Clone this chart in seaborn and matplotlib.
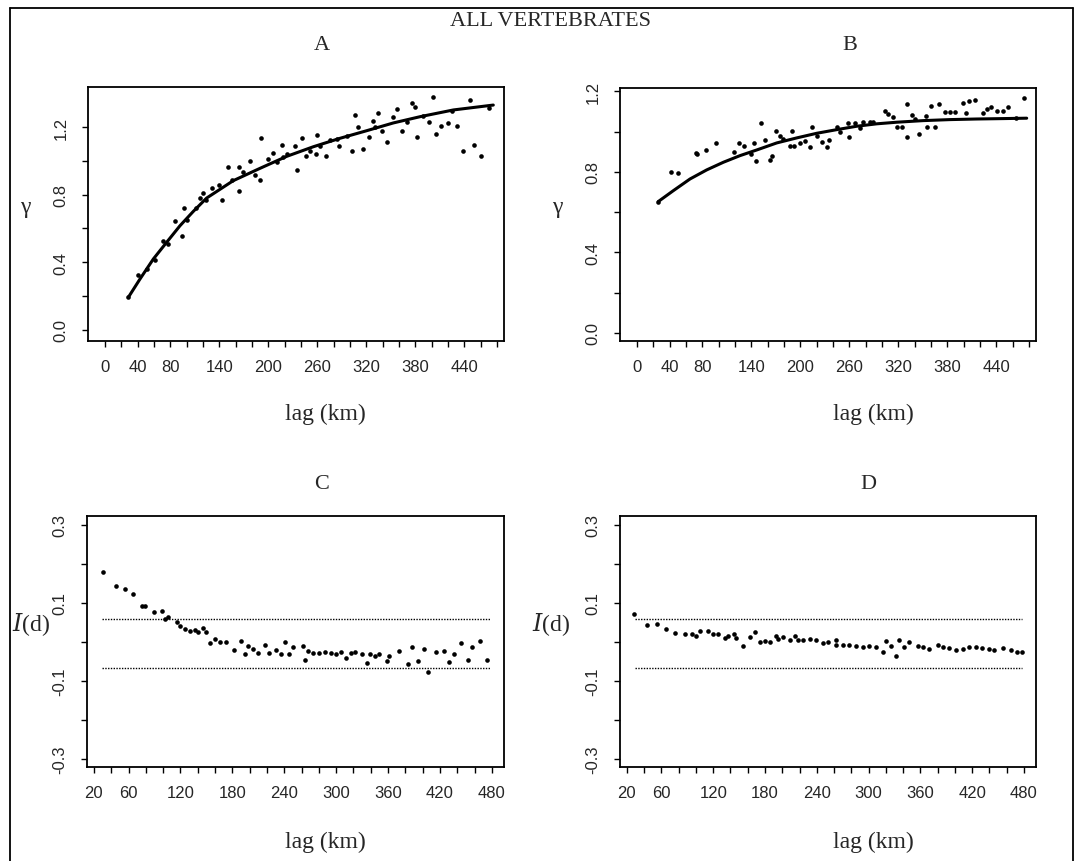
import matplotlib
matplotlib.use("Agg")
import matplotlib.pyplot as plt
from matplotlib.lines import Line2D
import seaborn as sns

# ---- panel A: semivariogram, all vertebrates ----
lag_a = [28.6, 40.8, 51.0, 61.0, 71.4, 77.5, 85.7, 93.8, 97.0, 100.7, 111.4, 116.3,
         120.3, 123.6, 130.6, 139.5, 142.8, 150.2, 155.9, 164.0, 164.4, 169.3, 177.1,
         183.6, 189.7, 190.5, 199.9, 205.2, 210.1, 216.2, 218.0, 223.1, 232.6, 235.4,
         240.7, 245.6, 250.9, 258.2, 259.1, 263.2, 270.5, 275.4, 283.6, 286.4, 295.8,
         302.7, 306.0, 310.1, 316.2, 323.6, 328.5, 330.9, 334.6, 339.5, 344.8, 352.1,
         357.0, 363.1, 369.3, 375.4, 379.4, 382.3, 389.6, 396.6, 401.0, 405.1, 410.8,
         420.2, 425.1, 430.4, 437.8, 446.8, 451.7, 460.2, 470.4]
gamma_a = [0.19, 0.325, 0.358, 0.41, 0.526, 0.507, 0.641, 0.552, 0.722, 0.651, 0.72, 0.779,
           0.809, 0.767, 0.838, 0.856, 0.769, 0.961, 0.886, 0.823, 0.965, 0.931, 1.0,
           0.916, 0.886, 1.135, 1.01, 1.046, 0.991, 1.095, 1.02, 1.04, 1.089, 0.947,
           1.133, 1.03, 1.06, 1.038, 1.154, 1.089, 1.03, 1.123, 1.129, 1.086, 1.145,
           1.06, 1.273, 1.198, 1.07, 1.139, 1.237, 1.198, 1.283, 1.178, 1.113, 1.258,
           1.307, 1.175, 1.228, 1.342, 1.317, 1.139, 1.267, 1.228, 1.376, 1.158, 1.204,
           1.224, 1.297, 1.208, 1.06, 1.36, 1.095, 1.03, 1.311]
fit_lag_a = [28.6, 42.8, 59.2, 75.5, 91.8, 108.1, 124.4, 157.0, 189.7, 222.4, 255.0,
             287.6, 320.3, 352.9, 385.6, 426.4, 475.3]
fit_gamma_a = [0.191, 0.299, 0.418, 0.517, 0.615, 0.70, 0.779, 0.882, 0.955, 1.026, 1.083,
               1.133, 1.178, 1.224, 1.261, 1.301, 1.330]

# ---- panel B: semivariogram of residuals ----
lag_b = [26.1, 41.2, 50.6, 72.2, 73.8, 84.5, 96.7, 118.7, 124.8, 131.4, 139.1, 143.2,
         145.3, 151.4, 156.7, 162.8, 165.6, 169.7, 175.0, 179.1, 187.3, 189.4, 192.2,
         199.5, 205.6, 211.8, 213.8, 219.9, 226.0, 232.2, 235.0, 245.2, 248.5, 258.6,
         259.9, 266.8, 273.0, 277.1, 285.2, 289.3, 303.5, 307.6, 313.7, 317.8, 323.9,
         330.0, 330.8, 336.2, 340.3, 345.6, 353.7, 355.4, 359.5, 364.7, 370.0, 377.0,
         383.1, 389.2, 398.6, 402.7, 406.8, 413.7, 423.1, 428.0, 432.9, 441.0, 448.4,
         454.5, 463.9, 474.1]
gamma_b = [0.653, 0.802, 0.793, 0.894, 0.891, 0.911, 0.944, 0.901, 0.944, 0.931, 0.889,
           0.942, 0.853, 1.042, 0.961, 0.860, 0.878, 1.005, 0.980, 0.964, 0.928, 1.005,
           0.928, 0.943, 0.956, 0.926, 1.022, 0.980, 0.951, 0.923, 0.961, 1.022, 0.997,
           1.042, 0.972, 1.042, 1.017, 1.047, 1.047, 1.047, 1.105, 1.088, 1.075, 1.022,
           1.022, 1.138, 0.972, 1.083, 1.063, 0.989, 1.080, 1.025, 1.126, 1.025, 1.138,
           1.097, 1.097, 1.097, 1.143, 1.093, 1.154, 1.159, 1.093, 1.113, 1.121, 1.105,
           1.105, 1.121, 1.067, 1.166]
fit_lag_b = [26.1, 44.5, 64.9, 85.3, 105.7, 126.1, 146.5, 171.0, 195.5, 220.0, 244.4,
             268.9, 293.4, 317.9, 350.5, 383.1, 415.8, 448.4, 477.0]
fit_gamma_b = [0.653, 0.707, 0.765, 0.810, 0.848, 0.881, 0.909, 0.944, 0.969, 0.992, 1.010,
               1.027, 1.039, 1.047, 1.055, 1.060, 1.063, 1.065, 1.067]

# ---- panel C: Moran's I correlogram ----
lag_c = [30.8, 45.5, 55.9, 65.5, 75.2, 79.1, 89.5, 99.1, 102.2, 106.0, 115.7, 119.5,
         125.3, 131.1, 136.9, 140.7, 146.5, 149.6, 154.3, 160.2, 166.2, 172.2, 182.2,
         190.0, 194.1, 198.0, 204.0, 210.0, 217.2, 222.0, 229.9, 235.8, 241.0, 245.1,
         249.8, 261.7, 263.8, 267.7, 273.7, 279.6, 287.6, 293.6, 299.5, 305.5, 311.5,
         316.7, 321.5, 329.5, 335.4, 339.4, 345.3, 349.3, 359.3, 361.2, 373.2, 383.2,
         387.2, 394.3, 401.1, 405.9, 415.0, 425.0, 431.0, 436.2, 444.0, 452.0, 456.9,
         466.8, 474.8]
moran_c = [0.180, 0.143, 0.136, 0.123, 0.093, 0.093, 0.076, 0.079, 0.059, 0.063, 0.050,
           0.042, 0.033, 0.029, 0.031, 0.026, 0.035, 0.025, -0.003, 0.008, 0.001, 0.001,
           -0.022, 0.003, -0.032, -0.010, -0.019, -0.028, -0.008, -0.028, -0.021, -0.032,
           0.001, -0.032, -0.014, -0.010, -0.047, -0.023, -0.028, -0.028, -0.026, -0.028,
           -0.032, -0.026, -0.041, -0.028, -0.026, -0.032, -0.054, -0.032, -0.035, -0.032,
           -0.050, -0.036, -0.023, -0.058, -0.014, -0.050, -0.019, -0.078, -0.026, -0.023,
           -0.052, -0.032, -0.003, -0.047, -0.014, 0.003, -0.047]

# ---- panel D: Moran's I correlogram of residuals ----
lag_d = [28.6, 43.6, 54.4, 65.2, 75.6, 87.1, 94.9, 99.9, 104.5, 114.1, 119.9, 125.6,
         133.4, 137.2, 144.1, 146.9, 154.6, 162.3, 168.1, 173.8, 179.6, 185.4, 193.1,
         195.0, 200.8, 208.5, 215.1, 218.1, 223.9, 231.6, 239.4, 247.0, 252.8, 261.7,
         262.5, 270.2, 277.9, 285.6, 293.3, 301.0, 308.8, 316.5, 320.4, 326.2, 332.0,
         335.0, 341.5, 347.3, 356.9, 362.7, 370.4, 380.0, 385.8, 393.5, 401.3, 409.0,
         416.6, 424.4, 432.0, 439.8, 445.5, 455.2, 464.8, 472.5, 478.3]
moran_d = [0.072, 0.044, 0.045, 0.033, 0.022, 0.021, 0.021, 0.015, 0.027, 0.027, 0.021,
           0.019, 0.009, 0.014, 0.021, 0.010, -0.011, 0.012, 0.025, -0.001, 0.003, -0.001,
           0.016, 0.008, 0.012, 0.006, 0.015, 0.006, 0.006, 0.008, 0.006, -0.003, 0.001,
           0.006, -0.009, -0.008, -0.009, -0.011, -0.014, -0.011, -0.014, -0.025, 0.003,
           -0.011, -0.035, 0.006, -0.014, 0.001, -0.011, -0.014, -0.018, -0.008, -0.014,
           -0.016, -0.020, -0.018, -0.014, -0.014, -0.016, -0.018, -0.020, -0.016, -0.020,
           -0.025, -0.027]

# significance bands (dotted lines) for the correlograms
band_lag = [29, 478]
band_upper = [0.06, 0.06]
band_lower = [-0.066, -0.066]

xt_ab = list(range(0, 481, 20))
xl_ab = [0, 40, 80, 140, 200, 260, 320, 380, 440]
xt_cd = list(range(20, 481, 20))
xl_cd = [20, 60, 120, 180, 240, 300, 360, 420, 480]
yt_ab = [0.0, 0.2, 0.4, 0.6, 0.8, 1.0, 1.2]
yl_ab = [0.0, 0.4, 0.8, 1.2]
yt_cd = [-0.3, -0.2, -0.1, 0.0, 0.1, 0.2, 0.3]
yl_cd = [-0.3, -0.1, 0.1, 0.3]

sns.set_style("ticks")
plt.rcParams["font.family"] = ["Liberation Sans", "DejaVu Sans"]
SERIF = ["Liberation Serif", "DejaVu Serif"]

W, H = 1077, 862
fig = plt.figure(figsize=(W / 100, H / 100), dpi=100)


def add_axes(left, top, right, bottom):
    return fig.add_axes([left / W, 1 - bottom / H, (right - left) / W, (bottom - top) / H])


def ftext(x, y, s, size=16, **kw):
    fig.text(x / W, 1 - y / H, s, ha="center", va="center", fontsize=size,
             family=SERIF, **kw)


def style_axes(ax, xlim, ylim, xt, xl, yt, yl, yfmt):
    ax.set_xlim(*xlim)
    ax.set_ylim(*ylim)
    ax.set_xticks(xt)
    ax.set_xticklabels([str(t) if t in xl else "" for t in xt])
    ax.set_yticks(yt)
    ax.set_yticklabels([yfmt.format(t) if any(abs(t - v) < 1e-9 for v in yl) else ""
                        for t in yt], rotation=90, va="center")
    ax.tick_params(direction="out", length=4, width=1, labelsize=12, color="black")
    ax.tick_params(axis="x", pad=9)
    ax.tick_params(axis="y", pad=10)
    for sp in ax.spines.values():
        sp.set_visible(True)
        sp.set_linewidth(1.3)
        sp.set_color("black")
    ax.set_xlabel("")
    ax.set_ylabel("")


axA = add_axes(88, 88, 504, 342)
axB = add_axes(620, 89, 1036, 342)
axC = add_axes(87, 517, 504, 768)
axD = add_axes(620, 517, 1036, 768)

for ax, lg, gm, flg, fgm in [(axA, lag_a, gamma_a, fit_lag_a, fit_gamma_a),
                             (axB, lag_b, gamma_b, fit_lag_b, fit_gamma_b)]:
    sns.lineplot(x=flg, y=fgm, color="black", linewidth=2.2, sort=False,
                 estimator=None, ax=ax)
    sns.scatterplot(x=lg, y=gm, color="black", s=11, linewidth=0, ax=ax)

style_axes(axA, (-20.8, 488.4), (-0.068, 1.437), xt_ab, xl_ab, yt_ab, yl_ab, "{:.1f}")
style_axes(axB, (-20.8, 488.4), (-0.040, 1.217), xt_ab, xl_ab, yt_ab, yl_ab, "{:.1f}")

for ax, lg, mi in [(axC, lag_c, moran_c), (axD, lag_d, moran_d)]:
    sns.lineplot(x=band_lag, y=band_upper, color="black", linewidth=1.0,
                 linestyle=(0, (1, 1)), ax=ax)
    sns.lineplot(x=band_lag, y=band_lower, color="black", linewidth=1.0,
                 linestyle=(0, (1, 1)), ax=ax)
    sns.scatterplot(x=lg, y=mi, color="black", s=11, linewidth=0, ax=ax)
    style_axes(ax, (12, 494), (-0.321, 0.323), xt_cd, xl_cd, yt_cd, yl_cd, "{:.1f}")

# titles and axis labels
ftext(550, 22, "ALL VERTEBRATES", size=16)
ftext(322, 45, "A", size=16)
ftext(850, 45, "B", size=16)
ftext(322, 485, "C", size=16)
ftext(868, 485, "D", size=16)
for x, y in [(325, 414), (873, 414), (325, 842), (873, 842)]:
    ftext(x, y, "lag (km)", size=17)
ftext(25, 207, "\u03b3", size=17)
ftext(557, 207, "\u03b3", size=17)
for x in (31, 551):
    fig.text(x / W, 1 - 625 / H, "$\\mathit{I}$(d)", ha="center", va="center",
             fontsize=17, family=SERIF, math_fontfamily="dejavuserif")

# outer frame (left, top, right)
fx0, fx1, fy0 = 10 / W, 1073 / W, 1 - 9 / H
for xs, ys in [([fx0, fx0], [0, fy0]), ([fx0, fx1], [fy0, fy0]), ([fx1, fx1], [fy0, 0])]:
    fig.add_artist(Line2D(xs, ys, color="black", linewidth=1.3))

fig.savefig("out.png", dpi=100)
